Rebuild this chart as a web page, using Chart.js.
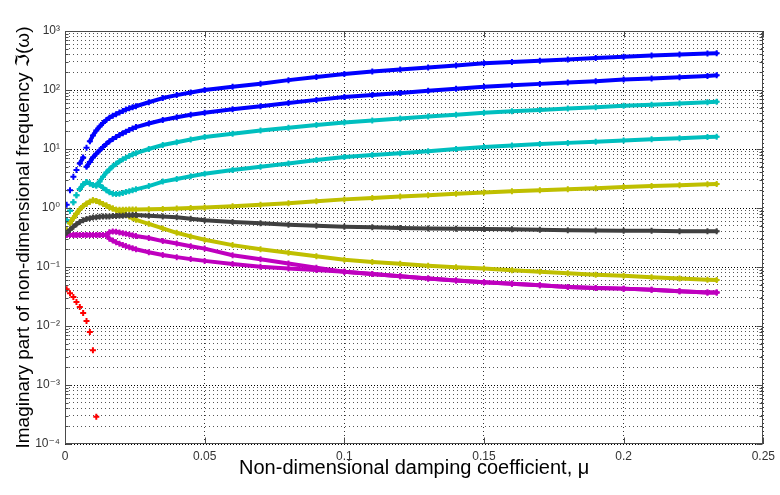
<!DOCTYPE html>
<html><head><meta charset="utf-8">
<script src="https://cdn.jsdelivr.net/npm/chart.js@4.4.1/dist/chart.umd.min.js"></script>
<style>html,body{margin:0;padding:0;background:#fff;}#wrap{width:780px;height:495px;}</style>
</head><body><div id="wrap"><canvas id="c" width="780" height="495"></canvas></div>
<script>
// Non-dimensional damping coefficient (x values)
const mu = [0.0006, 0.0018, 0.0030, 0.0041, 0.0053, 0.0065, 0.0077, 0.0089, 0.0100, 0.0112,
  0.0124, 0.0136, 0.0148, 0.0159, 0.0171, 0.0183, 0.0195, 0.0207, 0.0218, 0.0230, 0.0242, 0.0254,
  0.03, 0.035, 0.04, 0.045, 0.05, 0.06, 0.07, 0.08, 0.09, 0.10, 0.11, 0.12, 0.13, 0.14, 0.15,
  0.16, 0.17, 0.18, 0.19, 0.20, 0.21, 0.22, 0.23, 0.2333];

const blueUpper = [1.13, 2.0, 3.4, 4.4, 5.7, 7.2, 10.5, 13.5, 17, 20.5,
  24, 27.5, 31, 34, 36.5, 39, 41.5, 44, 46.5, 49, 51, 53,
  62, 73, 82, 91, 100, 114, 128, 147, 166, 187, 205, 222, 240, 260, 283,
  298, 313, 330, 348, 367, 385, 400, 415, 420];
const blueLower = [null, null, null, null, null, null, 5.0, 6.0, 7.2, 8.3,
  9.5, 10.8, 12.2, 13.5, 14.8, 16, 17.2, 18.5, 19.7, 21, 22.3, 23.5,
  27, 31, 34.5, 38, 41, 47, 53, 60, 68, 76, 82, 89, 97, 105, 113,
  120, 127, 134, 141, 150, 157, 165, 173, 177];
const cyanUpper = [0.62, 0.9, 1.25, 1.65, 2.1, 2.5, 2.75, 2.6, 2.45, 2.4,
  2.8, 3.4, 4.0, 4.5, 5.1, 5.6, 6.2, 6.7, 7.1, 7.6, 8.1, 8.5,
  10, 11.7, 13, 14.5, 16, 18.2, 20.5, 23, 25.5, 28, 30.5, 33, 35.5, 38, 41,
  43.5, 46, 48.5, 51, 54, 56.5, 59, 62, 63];
const cyanLower = [0.62, 0.9, 1.25, 1.65, 2.1, 2.5, 2.75, 2.6, 2.45, 2.4,
  2.45, 2.2, 2.0, 1.85, 1.75, 1.72, 1.75, 1.8, 1.87, 1.93, 2.0, 2.07,
  2.35, 2.8, 3.1, 3.45, 3.8, 4.4, 5.0, 5.7, 6.5, 7.3, 7.9, 8.5, 9.2, 10.0, 10.8,
  11.5, 12.1, 12.7, 13.3, 14.0, 14.6, 15.2, 15.9, 16.2];
const yellowUpper = [0.42, 0.55, 0.68, 0.8, 0.95, 1.08, 1.18, 1.28, 1.35, 1.32,
  1.25, 1.17, 1.1, 1.03, 0.98, 0.93, 0.93, 0.93, 0.93, 0.94, 0.94, 0.94,
  0.95, 0.96, 0.98, 1.0, 1.02, 1.07, 1.13, 1.2, 1.3, 1.4, 1.48, 1.56, 1.65, 1.74, 1.83,
  1.92, 2.0, 2.08, 2.17, 2.26, 2.35, 2.43, 2.52, 2.55];
const yellowLower = [0.42, 0.55, 0.68, 0.8, 0.95, 1.08, 1.18, 1.28, 1.35, 1.32,
  1.25, 1.17, 1.1, 1.03, 0.98, 0.93, 0.88, 0.82, 0.76, 0.72, 0.67, 0.63,
  0.54, 0.45, 0.38, 0.33, 0.29, 0.235, 0.2, 0.175, 0.152, 0.133, 0.122, 0.113, 0.105, 0.099, 0.094,
  0.088, 0.083, 0.078, 0.074, 0.071, 0.067, 0.064, 0.061, 0.06];
const grayMode = [0.38, 0.43, 0.48, 0.53, 0.58, 0.62, 0.65, 0.67, 0.69, 0.70,
  0.71, 0.72, 0.72, 0.72, 0.73, 0.73, 0.74, 0.74, 0.75, 0.75, 0.76, 0.76,
  0.74, 0.72, 0.70, 0.66, 0.62, 0.58, 0.55, 0.52, 0.50, 0.48, 0.47, 0.46, 0.45, 0.445, 0.44,
  0.435, 0.43, 0.42, 0.415, 0.41, 0.41, 0.405, 0.405, 0.405];
const magentaUpper = [0.348, 0.348, 0.348, 0.348, 0.348, 0.348, 0.348, 0.348, 0.348, 0.348,
  0.348, 0.348, 0.348, 0.39, 0.40, 0.395, 0.385, 0.375, 0.365, 0.355, 0.345, 0.335,
  0.31, 0.275, 0.25, 0.225, 0.205, 0.158, 0.135, 0.115, 0.097, 0.083, 0.076, 0.07, 0.064, 0.059, 0.055,
  0.052, 0.049, 0.046, 0.044, 0.043, 0.041, 0.039, 0.037, 0.037];
const magentaLower = [0.348, 0.348, 0.348, 0.348, 0.348, 0.348, 0.348, 0.348, 0.348, 0.348,
  0.348, 0.348, 0.348, 0.30, 0.28, 0.262, 0.248, 0.236, 0.226, 0.217, 0.208, 0.2,
  0.178, 0.16, 0.147, 0.136, 0.127, 0.112, 0.101, 0.094, 0.089, 0.083, 0.076, 0.07, 0.064, 0.059, 0.055,
  0.052, 0.049, 0.046, 0.044, 0.043, 0.041, 0.039, 0.037, 0.037];
const redMode = [0.042, 0.036, 0.031, 0.0255, 0.021, 0.0166, 0.0122, 0.0079, 0.0039, 0.00029];

const xTickValues = [0, 0.05, 0.1, 0.15, 0.2, 0.25];
const xTickLabels = ['0', '0.05', '0.1', '0.15', '0.2', '0.25'];
const yDecades = [-4, -3, -2, -1, 0, 1, 2, 3];
const yTickLabels = ['10\u207B\u2074', '10\u207B\u00B3', '10\u207B\u00B2', '10\u207B\u00B9', '10\u2070', '10\u00B9', '10\u00B2', '10\u00B3'];
const minorMultipliers = [2, 3, 4, 5, 6, 7, 8, 9];

const FONT = "'Liberation Sans', Arial, 'DejaVu Sans', sans-serif";

function toPoints(vals) {
  const out = [];
  vals.forEach((v, i) => { if (v != null) out.push({x: mu[i], y: v}); });
  return out;
}
const hideSeg = c => {
  const dx = Math.abs(c.p1.x - c.p0.x), dy = Math.abs(c.p1.y - c.p0.y);
  return dx < 6 && Math.hypot(dx, dy) > 7;
};
function ds(label, vals, color, line) {
  return {
    label, data: toPoints(vals), borderColor: color, backgroundColor: color,
    showLine: line, borderWidth: 4, borderJoinStyle: 'round', borderCapStyle: 'round',
    pointStyle: 'cross', pointRadius: 3, pointBorderWidth: 2, pointHoverRadius: 3,
    tension: 0, fill: false,
    segment: { borderColor: c => hideSeg(c) ? 'rgba(0,0,0,0)' : undefined }
  };
}

const frame = {
  id: 'frame',
  beforeDraw(chart) {
    const c = chart.ctx; c.save(); c.fillStyle = '#fff'; c.fillRect(0, 0, chart.width, chart.height); c.restore();
  },
  afterDraw(chart) {
    const {ctx, chartArea: a, scales: {x, y}} = chart;
    ctx.save();
    ctx.strokeStyle = '#4a4a4a'; ctx.lineWidth = 1;
    const L = Math.round(a.left) + 0.5, R = Math.round(a.right) - 0.5, T = Math.round(a.top) + 0.5, B = Math.round(a.bottom) - 0.5;
    ctx.strokeRect(L, T, R - L, B - T);
    ctx.beginPath();
    y.ticks.forEach(t => {
      const py = Math.round(y.getPixelForValue(t.value)) + 0.5;
      const len = t.major ? 6 : 3;
      ctx.moveTo(L, py); ctx.lineTo(L + len, py);
      ctx.moveTo(R, py); ctx.lineTo(R - len, py);
    });
    xTickValues.forEach(v => {
      const px = Math.round(x.getPixelForValue(v)) + 0.5;
      ctx.moveTo(px, B); ctx.lineTo(px, B - 6);
      ctx.moveTo(px, T); ctx.lineTo(px, T + 6);
    });
    ctx.stroke();
    ctx.restore();
  }
};

new Chart(document.getElementById('c'), {
  type: 'scatter',
  data: {
    datasets: [
      ds('gray', grayMode, '#404040', true),
      ds('yellow lower', yellowLower, '#BFBF00', true),
      ds('yellow upper', yellowUpper, '#BFBF00', true),
      ds('magenta lower', magentaLower, '#BF00BF', true),
      ds('magenta upper', magentaUpper, '#BF00BF', true),
      ds('cyan lower', cyanLower, '#00BFBF', true),
      ds('cyan upper', cyanUpper, '#00BFBF', true),
      ds('blue lower', blueLower, '#0000FF', true),
      ds('blue upper', blueUpper, '#0000FF', true),
      ds('red', redMode, '#FF0000', false)
    ]
  },
  plugins: [frame],
  options: {
    responsive: false, animation: false, events: [],
    layout: { padding: { top: 31, right: 12, bottom: 0, left: 0 } },
    plugins: { legend: { display: false }, tooltip: { enabled: false } },
    scales: {
      x: {
        type: 'linear', min: 0, max: 0.25,
        afterBuildTicks: s => { s.ticks = xTickValues.map(v => ({value: v})); },
        afterFit: s => { s.height = 51; },
        ticks: { autoSkip: false, padding: 5, color: '#333', font: {family: FONT, size: 12},
          maxRotation: 0, callback: (v, i) => xTickLabels[i] },
        grid: { drawTicks: false, color: '#333', lineWidth: 1 },
        border: { display: false, dash: [1, 3] },
        title: { display: true, text: 'Non-dimensional damping coefficient, \u03BC', color: '#000',
          font: {family: FONT, size: 20}, padding: {top: 0, bottom: 15} }
      },
      y: {
        type: 'logarithmic', min: 1e-4, max: 1e3,
        afterBuildTicks: s => {
          const t = [];
          yDecades.forEach((d, k) => {
            t.push({value: Math.pow(10, d), major: true});
            if (k < yDecades.length - 1) minorMultipliers.forEach(m => t.push({value: m * Math.pow(10, d), major: false}));
          });
          s.ticks = t;
        },
        afterFit: s => { s.width = 65; },
        ticks: { autoSkip: false, padding: 5, color: '#333', font: {family: FONT, size: 12},
          callback: (v, i, ticks) => ticks[i].major ? yTickLabels[yDecades.indexOf(Math.round(Math.log10(v)))] : '' },
        grid: { drawTicks: false, lineWidth: 1, color: c => (c.tick && c.tick.major) ? '#000' : '#555' },
        border: { display: false, dash: c => (c.tick && c.tick.major) ? [1, 2] : [1, 3] },
        title: { display: true, text: 'Imaginary part of non-dimensional frequency \u2111(\u03C9)', color: '#000',
          font: {family: FONT, size: 19}, padding: {top: 12, bottom: 0} }
      }
    }
  }
});
</script></body></html>
